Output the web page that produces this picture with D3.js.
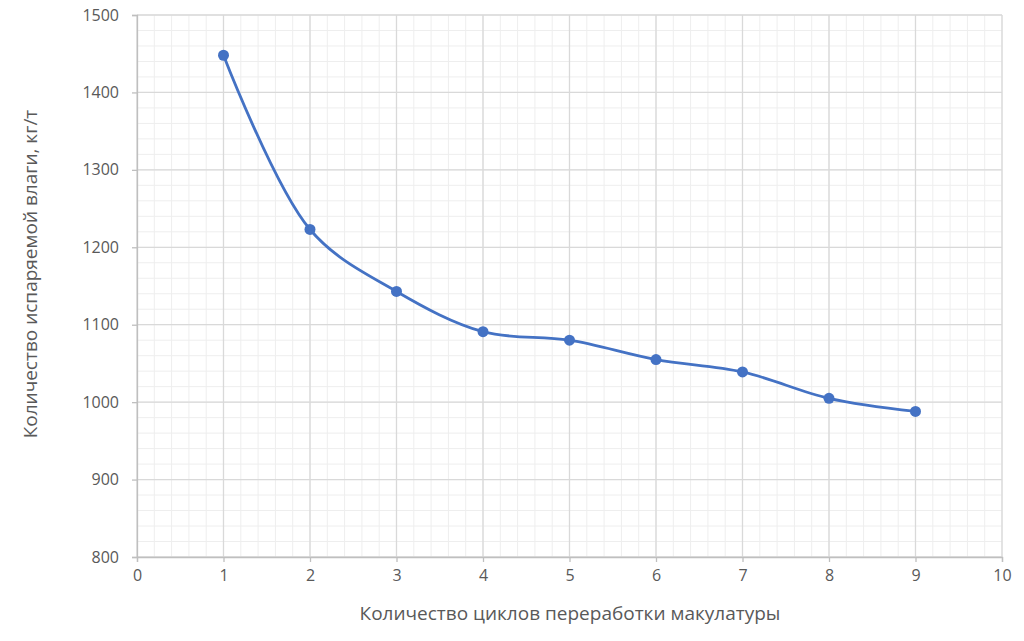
<!DOCTYPE html>
<html>
<head>
<meta charset="utf-8">
<script src="https://cdn.jsdelivr.net/npm/d3@7"></script>
<style>
  body { margin: 0; background: #fff; }
  svg { display: block; font-family: "Open Sans", sans-serif; }
</style>
</head>
<body>
<div id="chart"></div>
<script>
const cycles = [1, 2, 3, 4, 5, 6, 7, 8, 9]
const moisture = [1448, 1223, 1143, 1091, 1080, 1055, 1039, 1005, 988]
const xTicks = [0, 1, 2, 3, 4, 5, 6, 7, 8, 9, 10]
const yTicks = [800, 900, 1000, 1100, 1200, 1300, 1400, 1500]
const xTitle = 'Количество циклов переработки макулатуры'
const yTitle = 'Количество испаряемой влаги, кг/т'

const width = 1024, height = 641
const margin = { top: 15, right: 22, bottom: 84, left: 137 }
const w = width - margin.left - margin.right
const h = height - margin.top - margin.bottom

const svg = d3.select('#chart').append('svg')
    .attr('width', width)
    .attr('height', height)

const g = svg.append('g')
    .attr('transform', 'translate(' + margin.left + ',' + margin.top + ')')

let x = d3.scaleLinear().domain([0, 10]).range([0, w])
let y = d3.scaleLinear().domain([800, 1500]).range([h, 0])

// minor grid
const xMinor = d3.range(0, 10.001, 0.2)
const yMinor = d3.range(800, 1500.001, 20)
g.append('g').selectAll('line').data(xMinor).join('line')
    .attr('x1', d => x(d)).attr('x2', d => x(d))
    .attr('y1', 0).attr('y2', h)
    .attr('stroke', '#eeeeee').attr('stroke-width', 1)
g.append('g').selectAll('line').data(yMinor).join('line')
    .attr('x1', 0).attr('x2', w)
    .attr('y1', d => y(d)).attr('y2', d => y(d))
    .attr('stroke', '#eeeeee').attr('stroke-width', 1)

// major grid
g.append('g').selectAll('line').data(xTicks).join('line')
    .attr('x1', d => x(d)).attr('x2', d => x(d))
    .attr('y1', 0).attr('y2', h)
    .attr('stroke', '#d9d9d9').attr('stroke-width', 1.3)
g.append('g').selectAll('line').data(yTicks).join('line')
    .attr('x1', 0).attr('x2', w)
    .attr('y1', d => y(d)).attr('y2', d => y(d))
    .attr('stroke', '#d9d9d9').attr('stroke-width', 1.3)

// axes
const xAxis = g.append('g')
    .attr('transform', 'translate(0,' + h + ')')
    .call(d3.axisBottom(x).tickValues(xTicks).tickSize(5).tickPadding(8).tickFormat(d3.format('d')))
const yAxis = g.append('g')
    .call(d3.axisLeft(y).tickValues(yTicks).tickSize(5).tickPadding(13).tickFormat(d3.format('d')))

for (const ax of [xAxis, yAxis]) {
  ax.select('.domain').attr('stroke', '#bfbfbf').attr('stroke-width', 1.3)
  ax.selectAll('.tick line').attr('stroke', '#bfbfbf').attr('stroke-width', 1.3)
  ax.selectAll('.tick text')
      .attr('fill', '#595959')
      .style('font-size', '16px')
      .style('font-family', '"Open Sans", sans-serif')
}

// line
let line = d3.line()
    .x((d, i) => x(cycles[i]))
    .y(d => y(d))
    .curve(d3.curveCatmullRom.alpha(0.5))

g.append('path')
    .datum(moisture)
    .attr('fill', 'none')
    .attr('stroke', '#4472c4')
    .attr('stroke-width', 2.8)
    .attr('stroke-linejoin', 'round')
    .attr('stroke-linecap', 'round')
    .attr('d', line)

g.append('g').selectAll('circle').data(moisture).join('circle')
    .attr('cx', (d, i) => x(cycles[i]))
    .attr('cy', d => y(d))
    .attr('r', 5.5)
    .attr('fill', '#4472c4')

// titles
svg.append('text')
    .attr('x', 570)
    .attr('y', 620)
    .attr('text-anchor', 'middle')
    .attr('fill', '#595959')
    .style('font-size', '19px')
    .text(xTitle)

svg.append('text')
    .attr('transform', 'translate(37,274) rotate(-90)')
    .attr('text-anchor', 'middle')
    .attr('fill', '#595959')
    .style('font-size', '19px')
    .text(yTitle)
</script>
</body>
</html>
